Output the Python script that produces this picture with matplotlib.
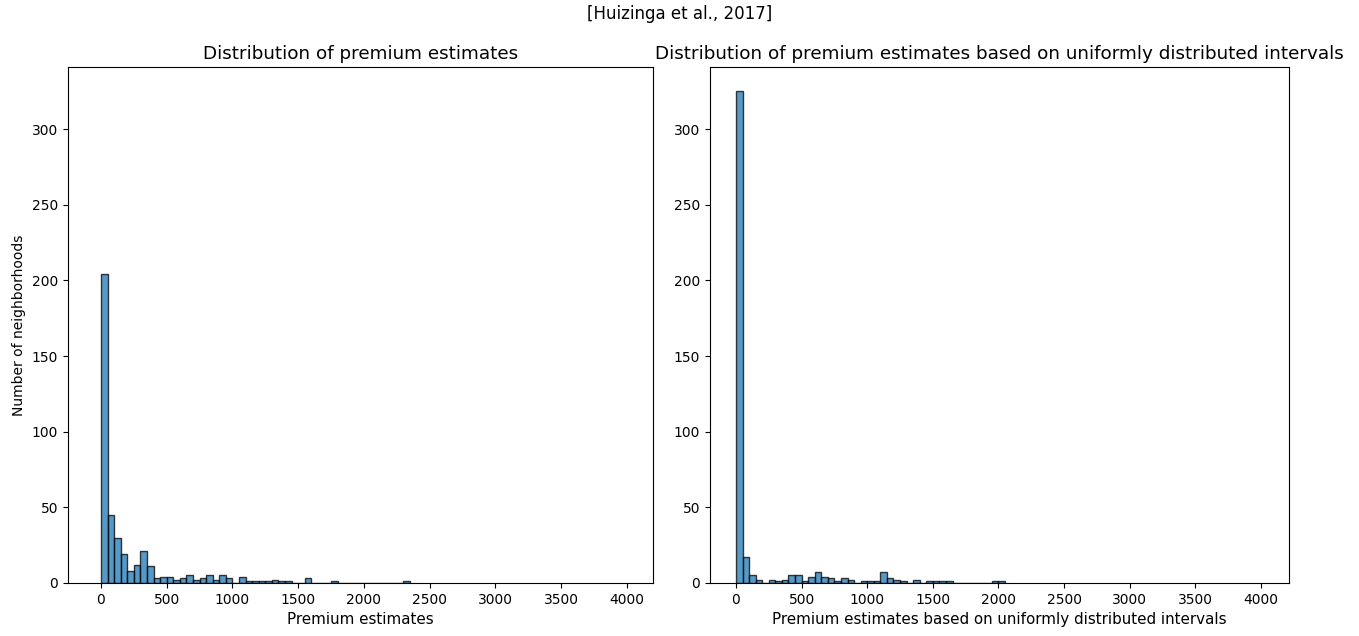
import matplotlib
matplotlib.use("Agg")
import matplotlib.pyplot as plt
import numpy as np

# histogram bins: width 50, starting at 0
bin_width = 50

# counts per bin
premium_counts = [204, 45, 30, 19, 8, 12, 21, 11, 3, 4,
                  4, 2, 3, 5, 2, 3, 5, 2, 5, 3,
                  0, 4, 1, 1, 1, 1, 2, 1, 1, 0,
                  0, 3, 0, 0, 0, 1, 0, 0, 0, 0,
                  0, 0, 0, 0, 0, 0, 1]

uniform_counts = [325, 17, 5, 2, 0, 2, 1, 2, 5, 5,
                  1, 4, 7, 4, 3, 1, 3, 2, 0, 1,
                  1, 1, 7, 3, 2, 1, 0, 2, 0, 1,
                  1, 1, 1, 0, 0, 0, 0, 0, 0, 1,
                  1]

x_ticks = [0, 500, 1000, 1500, 2000, 2500, 3000, 3500, 4000]
y_ticks = [0, 50, 100, 150, 200, 250, 300]

W, H = 1359, 636
fig = plt.figure(figsize=(W / 100, H / 100), dpi=100)
ax1 = fig.add_axes([68 / W, 1 - 583 / H, 585 / W, 516 / H])
ax2 = fig.add_axes([710 / W, 1 - 583 / H, 579 / W, 516 / H])


def draw_hist(ax, counts, xlim):
    edges = np.arange(len(counts)) * bin_width
    ax.bar(edges, counts, width=bin_width, align='edge', color='#1f77b4',
           edgecolor='black', linewidth=1.0, alpha=0.75)
    ax.set_xlim(*xlim)
    ax.set_ylim(0, 341)
    ax.set_xticks(x_ticks)
    ax.set_yticks(y_ticks)
    ax.tick_params(labelsize=10)


draw_hist(ax1, premium_counts, (-251, 4200))
draw_hist(ax2, uniform_counts, (-198, 4214))

ax1.set_title('Distribution of premium estimates', fontsize=13.2)
ax1.set_xlabel('Premium estimates', fontsize=10.9)
ax1.set_ylabel('Number of neighborhoods', fontsize=10)

ax2.set_title('Distribution of premium estimates based on uniformly distributed intervals', fontsize=13.2)
ax2.set_xlabel('Premium estimates based on uniformly distributed intervals', fontsize=10.9)

fig.suptitle('[Huizinga et al., 2017]', fontsize=12, y=1 - 14 / H, va='center')

plt.savefig('out.png', dpi=100)
plt.close('all')
